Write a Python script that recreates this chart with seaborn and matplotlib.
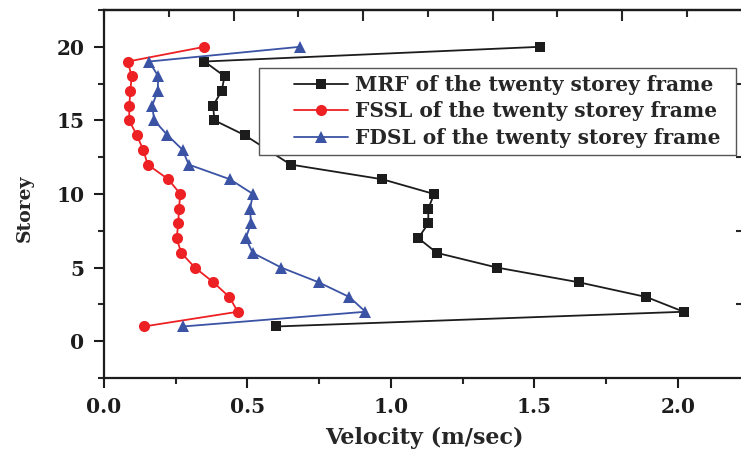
import matplotlib
matplotlib.use("Agg")
import matplotlib.pyplot as plt
import seaborn as sns
import pandas as pd
from matplotlib.ticker import MultipleLocator
from matplotlib.lines import Line2D
from matplotlib.legend_handler import HandlerLine2D

# ---- data ----
storey = [20, 19, 18, 17, 16, 15, 14, 13, 12, 11, 10, 9, 8, 7, 6, 5, 4, 3, 2, 1]
mrf = [1.52, 0.35, 0.42, 0.41, 0.38, 0.385, 0.49, 0.57, 0.65, 0.97, 1.15, 1.13, 1.13, 1.095, 1.16, 1.37, 1.655, 1.89, 2.02, 0.60]
fssl = [0.35, 0.083, 0.096, 0.092, 0.088, 0.088, 0.114, 0.137, 0.152, 0.224, 0.266, 0.261, 0.259, 0.253, 0.269, 0.317, 0.381, 0.437, 0.466, 0.139]
fdsl = [0.683, 0.157, 0.189, 0.187, 0.168, 0.175, 0.221, 0.274, 0.295, 0.439, 0.519, 0.509, 0.512, 0.494, 0.518, 0.618, 0.748, 0.855, 0.911, 0.275]
series_labels = ["MRF of the twenty storey frame",
                 "FSSL of the twenty storey frame",
                 "FDSL of the twenty storey frame"]
xticks = [0.0, 0.5, 1.0, 1.5, 2.0]
yticks = [0, 5, 10, 15, 20]

sns.set_theme(style="ticks")
plt.rcParams["font.family"] = ["DejaVu Serif"]
plt.rcParams["font.weight"] = "bold"

fig = plt.figure(figsize=(7.41, 4.55), dpi=100)
ax = fig.add_axes([104 / 741, 1 - 378 / 455, 640 / 741, 368 / 455])

styles = [
    dict(color="#1C1C1C", marker="s", markersize=7.5),
    dict(color="#ED2024", marker="o", markersize=8),
    dict(color="#3A53A4", marker="^", markersize=9),
]
handles = []
for vals, lab, st in zip([mrf, fssl, fdsl], series_labels, styles):
    df = pd.DataFrame({"v": vals, "s": storey})
    sns.lineplot(data=df, x="v", y="s", sort=False, estimator=None, ax=ax,
                 color=st["color"], marker=st["marker"], markersize=st["markersize"],
                 markeredgecolor=st["color"], markerfacecolor=st["color"],
                 markeredgewidth=0, linewidth=1.3, label=lab, legend=False)
    handles.append(ax.get_lines()[-1])

ax.set_xlim(0, 2.23)
ax.set_ylim(-2.5, 22.5)
ax.set_xticks(xticks)
ax.set_xticklabels([f"{t:.1f}" for t in xticks])
ax.set_yticks(yticks)
ax.set_yticklabels([str(t) for t in yticks])
ax.xaxis.set_minor_locator(MultipleLocator(0.25))
ax.yaxis.set_minor_locator(MultipleLocator(2.5))

for s in ["left", "bottom", "top", "right"]:
    ax.spines[s].set_linewidth(1.6)
    ax.spines[s].set_color("#1C1C1C")
ax.tick_params(which="major", direction="out", length=7, width=1.5, pad=7,
               labelsize=14.5, colors="#1C1C1C")
ax.tick_params(which="minor", direction="out", length=4, width=1.5)
for lab in ax.get_xticklabels() + ax.get_yticklabels():
    lab.set_fontweight("bold")

k = 1.108
top = ax.secondary_xaxis("top", functions=(lambda x: x * k, lambda t: t / k))
top.xaxis.set_major_locator(MultipleLocator(0.5))
top.xaxis.set_minor_locator(MultipleLocator(0.25))
top.tick_params(which="major", direction="in", length=8, width=1.5, labeltop=False)
top.tick_params(which="minor", direction="in", length=5, width=1.5)
top.spines["top"].set_linewidth(1.6)

right = ax.secondary_yaxis("right")
right.set_yticks([2.5, 7.5, 12.5, 17.5])
right.tick_params(direction="in", length=6, width=1.5, labelright=False)

ax.set_xlabel("Velocity (m/sec)", fontsize=16, fontweight="bold")
ax.xaxis.set_label_coords(0.5, -0.163)
ax.xaxis.label.set_va("center")
ax.set_ylabel("Storey", fontsize=13.5, fontweight="bold")
ax.yaxis.set_label_coords(-0.124, 0.462)
ax.yaxis.label.set_va("center")

fs = 14.5
leg = ax.legend(handles=handles, labels=series_labels,
                loc="upper left", bbox_to_anchor=(0.242, 0.608, 0.745, 0.234),
                mode="expand", borderaxespad=0,
                prop={"weight": "bold", "size": fs},
                handlelength=4.1, handletextpad=0.35, labelspacing=0.33,
                borderpad=0.33, fancybox=False, framealpha=1,
                handler_map={Line2D: HandlerLine2D(xpad=1.4)})
leg.get_frame().set_edgecolor("#555555")
leg.get_frame().set_linewidth(1.0)

fig.savefig("out.png", dpi=100)
